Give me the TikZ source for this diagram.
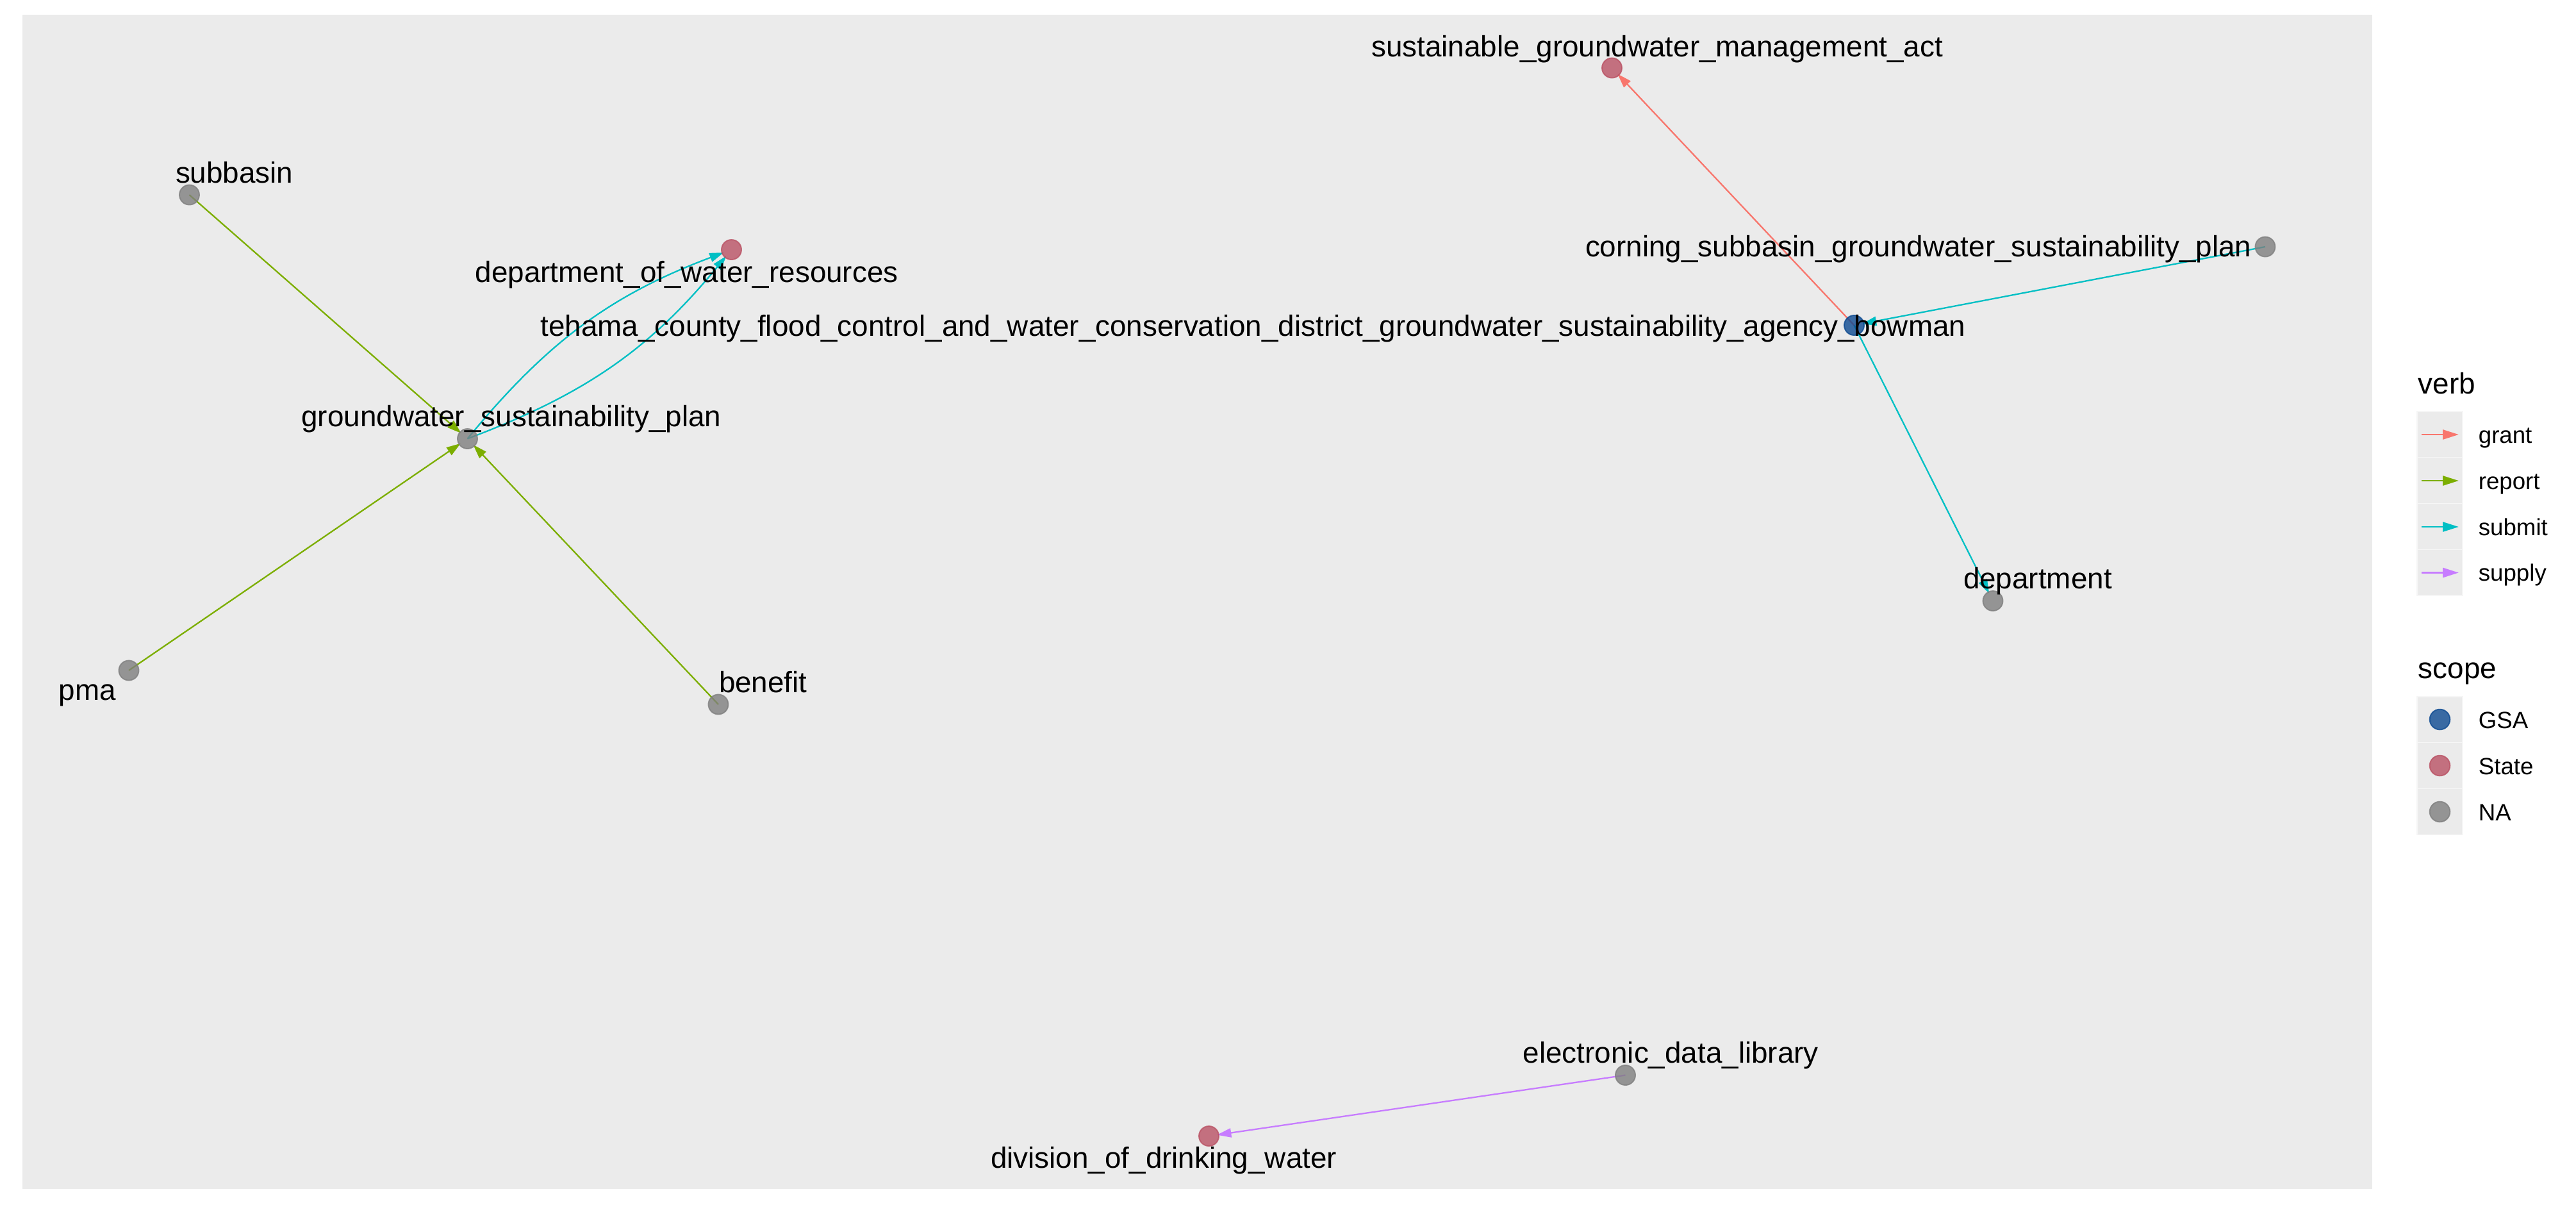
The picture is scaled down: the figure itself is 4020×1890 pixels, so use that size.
\documentclass[tikz,border=0pt]{standalone}
\usepackage{fontspec}
\setmainfont{Liberation Sans}
\usetikzlibrary{arrows.meta}
\pgfdeclarelayer{bg}\pgfdeclarelayer{edges}\pgfsetlayers{bg,edges,main}
\definecolor{panelbg}{HTML}{EBEBEB}
\definecolor{cgrant}{HTML}{F8766D}
\definecolor{creport}{HTML}{7CAE00}
\definecolor{csubmit}{HTML}{00BFC4}
\definecolor{csupply}{HTML}{C77CFF}
\definecolor{cgsa}{HTML}{0D4A91}
\definecolor{cstate}{HTML}{BA5264}
\definecolor{cna}{HTML}{7F7F7F}
\tikzset{
  vnode/.style={circle, inner sep=0pt, outer sep=0pt, minimum size=7.44pt, opacity=0.8, line width=0.45pt},
  nanode/.style={vnode, draw=cna, fill=cna},
  statenode/.style={vnode, draw=cstate, fill=cstate},
  gsanode/.style={vnode, draw=cgsa, fill=cgsa},
  lbl/.style={font=\fontsize{11}{13}\selectfont, inner sep=0pt, outer sep=0pt, anchor=base west, text=black},
  lgtitle/.style={font=\fontsize{11}{13}\selectfont, inner sep=0pt, anchor=base west},
  lgtext/.style={font=\fontsize{8.8}{10}\selectfont, inner sep=0pt, anchor=base west},
  edgeline/.style={line width=0.55pt, -{Triangle[length=5.3pt,width=3.4pt]}, shorten >=3.1pt},
  keyline/.style={line width=0.7pt, -{Triangle[length=6pt,width=3.6pt]}},
  keybox/.style={fill=panelbg, draw=white!55!panelbg, line width=0.3pt}
}
\begin{document}
\begin{tikzpicture}[x=0.24pt, y=-0.24pt]
\useasboundingbox (0,0) rectangle (4020,1890);
\begin{pgfonlayer}{bg}
  \fill[white] (0,0) rectangle (4020,1890);
  \fill[panelbg] (35,23) rectangle (3702,1855);
\end{pgfonlayer}
% graph nodes
\node[nanode] (sub) at (295.5,304) {};
\node[nanode] (gsp) at (729.5,684.5) {};
\node[statenode] (dwr) at (1141.5,389.5) {};
\node[nanode] (pma) at (201,1046) {};
\node[nanode] (ben) at (1121,1099) {};
\node[statenode] (sgma) at (2515.5,106) {};
\node[gsanode] (bow) at (2893.5,507.5) {};
\node[nanode] (cor) at (3535,385) {};
\node[nanode] (dep) at (3110,937.5) {};
\node[nanode] (edl) at (2536.5,1677.5) {};
\node[statenode] (dodw) at (1886.5,1772.5) {};
% labels
\node[lbl] (lsub) at (274,285) {subbasin};
\node[lbl] (lgsp) at (470.5,665) {groundwater\_sustainability\_plan};
\node[lbl] (ldwr) at (741.8,440.7) {department\_of\_water\_resources};
\node[lbl] (lteh) at (843.3,524) {tehama\_county\_flood\_control\_and\_water\_conservation\_district\_groundwater\_sustainability\_agency\_bowman};
\node[lbl] (lpma) at (92,1092) {pma};
\node[lbl] (lben) at (1122,1080) {benefit};
\node[lbl, anchor=base east] (lsgma) at (3032,88) {sustainable\_groundwater\_management\_act};
\node[lbl] (lcor) at (2474,400) {corning\_subbasin\_groundwater\_sustainability\_plan};
\node[lbl] (ldep) at (3064,918) {department};
\node[lbl] (ledl) at (2376.8,1658) {electronic\_data\_library};
\node[lbl] (ldodw) at (1546,1822.7) {division\_of\_drinking\_water};
% edges
\begin{pgfonlayer}{edges}
  \draw[edgeline, creport] (sub.center) -- (gsp.center);
  \draw[edgeline, creport] (pma.center) -- (gsp.center);
  \draw[edgeline, creport] (ben.center) -- (gsp.center);
  \draw[edgeline, csubmit] (gsp.center) to[bend left=15] (dwr.center);
  \draw[edgeline, csubmit] (gsp.center) to[bend right=15] (dwr.center);
  \draw[edgeline, cgrant] (bow.center) -- (sgma.center);
  \draw[edgeline, csubmit] (cor.center) -- (bow.center);
  \draw[edgeline, csubmit] (bow.center) -- (dep.center);
  \draw[edgeline, csupply] (edl.center) -- (dodw.center);
\end{pgfonlayer}
% legend: verb
\node[lgtitle] (tverb) at (3773,614.7) {verb};
\foreach \i in {0,1,2,3} {
  \path[keybox] (3772,642+71.75*\i) rectangle (3843,642+71.75*\i+71.75);
}
\coordinate (ga) at (3779,678);  \coordinate (gb) at (3837,678);
\coordinate (ra) at (3779,750);  \coordinate (rb) at (3837,750);
\coordinate (sa) at (3779,822);  \coordinate (sb) at (3837,822);
\coordinate (pa) at (3779,893.5);\coordinate (pb) at (3837,893.5);
\draw[keyline, cgrant] (ga) -- (gb);
\draw[keyline, creport] (ra) -- (rb);
\draw[keyline, csubmit] (sa) -- (sb);
\draw[keyline, csupply] (pa) -- (pb);
\node[lgtext] (tgrant) at (3867,691) {grant};
\node[lgtext] (treport) at (3867,763) {report};
\node[lgtext] (tsubmit) at (3867,835) {submit};
\node[lgtext] (tsupply) at (3867,906.5) {supply};
% legend: scope
\node[lgtitle] (tscope) at (3773,1058.5) {scope};
\foreach \i in {0,1,2} {
  \path[keybox] (3772,1087+71.75*\i) rectangle (3843,1087+71.75*\i+71.75);
}
\node[gsanode, minimum size=7.6pt] (kgsa) at (3807.5,1122.5) {};
\node[statenode, minimum size=7.6pt] (kstate) at (3807.5,1194.5) {};
\node[nanode, minimum size=7.6pt] (kna) at (3807.5,1266.5) {};
\node[lgtext] (tgsa) at (3867,1136) {GSA};
\node[lgtext] (tstate) at (3867,1208) {State};
\node[lgtext] (tna) at (3867,1280) {NA};
\end{tikzpicture}
\end{document}
